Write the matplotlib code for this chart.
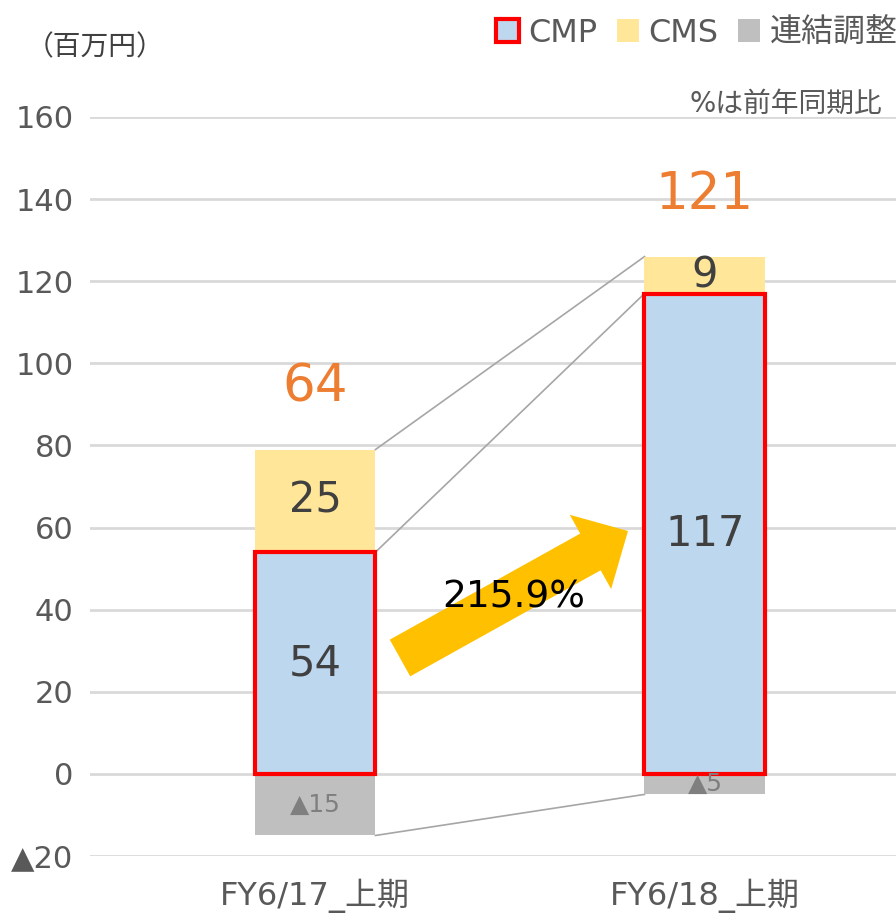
import matplotlib
matplotlib.use("Agg")
import matplotlib.pyplot as plt
from matplotlib.patches import FancyArrow, Patch
import numpy as np

plt.rcParams['font.family'] = ['DejaVu Sans', 'Noto Sans CJK JP']

categories = ["FY6/17_上期", "FY6/18_上期"]
cmp_vals = [54, 117]
cms_vals = [25, 9]
adj_vals = [-15, -5]
totals = [64, 121]
growth_label = "215.9%"
yticks = [-20, 0, 20, 40, 60, 80, 100, 120, 140, 160]
ytick_labels = ["▲20", "0", "20", "40", "60", "80", "100", "120", "140", "160"]

C_CMP = "#BDD7EE"
C_CMS = "#FFE699"
C_ADJ = "#BFBFBF"
C_RED = "#FF0000"
C_TXT = "#595959"

fig = plt.figure(figsize=(8.96, 9.14), dpi=100)
ax = fig.add_axes([90/896, 58/914, 806/896, 739/914])

x = np.arange(len(categories))
w = 0.31

ax.bar(x, adj_vals, w, color=C_ADJ, zorder=2)
ax.bar(x, cms_vals, w, bottom=cmp_vals, color=C_CMS, zorder=2)
ax.bar(x, cmp_vals, w, color=C_CMP, edgecolor=C_RED, linewidth=3, zorder=3)

# connector lines
tops = [c + s for c, s in zip(cmp_vals, cms_vals)]
for a in [tops, cmp_vals, adj_vals]:
    ax.plot([x[0] + w/2, x[1] - w/2], [a[0], a[1]], color="#A6A6A6", lw=1.2, zorder=1)

# labels
for i in range(len(x)):
    ax.text(x[i], cmp_vals[i] / 2, str(cmp_vals[i]), ha="center", va="center",
            fontsize=30, color="#404040", zorder=5)
    ax.text(x[i], cmp_vals[i] + cms_vals[i] / 2, str(cms_vals[i]), ha="center", va="center",
            fontsize=30, color="#404040", zorder=5)
    ax.text(x[i], adj_vals[i] / 2, "▲" + str(abs(adj_vals[i])), ha="center", va="center",
            fontsize=18, color="#7F7F7F", zorder=5)
    ax.text(x[i], tops[i] + 15.0, str(totals[i]), ha="center", va="center",
            fontsize=37, color="#ED7D31", zorder=5)

ax.set_xlim(-0.577, 1.49)
ax.set_ylim(-20, 160)
ax.set_yticks(yticks)
ax.set_yticklabels(ytick_labels)
ax.set_xticks(x)
ax.set_xticklabels(categories)
ax.tick_params(axis="y", length=0, labelsize=22, labelcolor=C_TXT, pad=12)
ax.tick_params(axis="x", length=0, labelsize=23, labelcolor=C_TXT, pad=16)
ax.yaxis.grid(True, color="#D9D9D9", lw=2)
ax.set_axisbelow(True)
for s in ax.spines.values():
    s.set_visible(False)

# growth arrow (annotation)
arr = FancyArrow(4.00, 2.56, 2.28, 1.27, width=0.42, head_width=0.85,
                 head_length=0.43, length_includes_head=True, color="#FFC000",
                 transform=fig.dpi_scale_trans, zorder=4, lw=0)
fig.patches.append(arr)
fig.text(514/896, 1 - 598/914, growth_label, ha="center", va="center",
         fontsize=27, color="black", zorder=10)

fig.text(95/896, 1 - 47/914, "（百万円）", ha="center", va="center",
         fontsize=20, color="#404040")
fig.text(882/896, 1 - 104/914, "%は前年同期比", ha="right", va="center",
         fontsize=20, color=C_TXT)

handles = [Patch(facecolor=C_CMP, edgecolor=C_RED, lw=3),
           Patch(facecolor=C_CMS, edgecolor="none"),
           Patch(facecolor=C_ADJ, edgecolor="none")]
fig.legend(handles, ["CMP", "CMS", "連結調整"], loc="upper right",
           bbox_to_anchor=(1.034, 1.012), ncol=3, frameon=False, fontsize=23,
           labelcolor=C_TXT, handlelength=0.7, handleheight=0.7,
           handletextpad=0.3, columnspacing=0.6)

fig.savefig("out.png", dpi=100)
